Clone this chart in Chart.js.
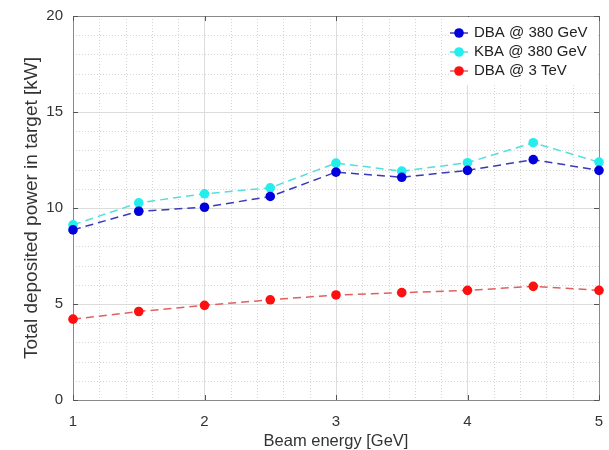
<!DOCTYPE html>
<html>
<head>
<meta charset="utf-8">
<script src="https://cdn.jsdelivr.net/npm/chart.js@4.4.0/dist/chart.umd.min.js"></script>
<style>
html,body{margin:0;padding:0;background:#fff;}
#wrap{width:609px;height:450px;position:relative;}
</style>
</head>
<body>
<div id="wrap"><canvas id="c" width="609" height="450"></canvas></div>
<script>
const beamEnergy = [1, 1.5, 2, 2.5, 3, 3.5, 4, 4.5, 5];
const dba380 = [8.86, 9.83, 10.04, 10.6, 11.87, 11.6, 11.96, 12.52, 11.96];
const kba380 = [9.12, 10.27, 10.74, 11.05, 12.34, 11.92, 12.36, 13.4, 12.39];
const dba3tev = [4.21, 4.61, 4.93, 5.22, 5.47, 5.59, 5.71, 5.92, 5.71];
const seriesLabels = ['DBA @ 380 GeV', 'KBA @ 380 GeV', 'DBA @ 3 TeV'];
const xTitle = 'Beam energy [GeV]';
const yTitle = 'Total deposited power in target [kW]';

const FONT = "'Liberation Sans', Arial, sans-serif";
const toPts = arr => beamEnergy.map((x, i) => ({x: x, y: arr[i]}));

function ds(label, arr, lineCol, ptCol) {
  return {
    label: label, data: toPts(arr),
    borderColor: lineCol, backgroundColor: ptCol,
    pointBackgroundColor: ptCol, pointBorderColor: ptCol,
    pointRadius: 4.8, pointBorderWidth: 0, borderWidth: 1.5,
    borderDash: [8, 5], tension: 0, clip: false
  };
}

const frame = {
  id: 'frame',
  beforeDatasetsDraw(chart) {
    const {ctx, chartArea: a, scales: {x, y}} = chart;
    ctx.save();
    ctx.strokeStyle = '#d6d6d6';
    ctx.lineWidth = 1;
    ctx.setLineDash([1, 2]);
    for (let v = 1; v <= 5.0001; v += 0.2) {
      const r = Math.round(v * 10) / 10;
      if (Math.abs(r - Math.round(r)) < 1e-6) continue;
      const px = Math.round(x.getPixelForValue(r)) + 0.5;
      ctx.beginPath(); ctx.moveTo(px, a.top); ctx.lineTo(px, a.bottom); ctx.stroke();
    }
    for (let v = 1; v < 20; v++) {
      if (v % 5 === 0) continue;
      const py = Math.round(y.getPixelForValue(v)) + 0.5;
      ctx.beginPath(); ctx.moveTo(a.left, py); ctx.lineTo(a.right, py); ctx.stroke();
    }
    ctx.setLineDash([]);
    ctx.strokeStyle = '#8a8a8a';
    ctx.lineWidth = 1;
    ctx.strokeRect(Math.round(a.left) + 0.5, Math.round(a.top) + 0.5,
                   Math.round(a.right - a.left), Math.round(a.bottom - a.top));
    ctx.strokeStyle = '#555';
    for (let v = 1; v <= 5; v++) {
      const px = Math.round(x.getPixelForValue(v)) + 0.5;
      ctx.beginPath(); ctx.moveTo(px, a.bottom); ctx.lineTo(px, a.bottom - 5); ctx.stroke();
      ctx.beginPath(); ctx.moveTo(px, a.top); ctx.lineTo(px, a.top + 5); ctx.stroke();
    }
    for (let v = 0; v <= 20; v += 5) {
      const py = Math.round(y.getPixelForValue(v)) + 0.5;
      ctx.beginPath(); ctx.moveTo(a.left, py); ctx.lineTo(a.left + 5, py); ctx.stroke();
      ctx.beginPath(); ctx.moveTo(a.right, py); ctx.lineTo(a.right - 5, py); ctx.stroke();
    }
    ctx.restore();
  },
  afterDraw(chart) {
    const {ctx, chartArea: a} = chart;
    ctx.save();
    const bx = 449, by = a.top + 1, bw = a.right - bx - 1, bh = 68;
    ctx.fillStyle = '#fff';
    ctx.fillRect(bx, by, bw, bh);
    ctx.font = '15px ' + FONT;
    ctx.textBaseline = 'middle';
    chart.data.datasets.forEach((d, i) => {
      const cy = a.top + 17 + i * 19;
      ctx.strokeStyle = d.borderColor;
      ctx.lineWidth = 1.5;
      ctx.beginPath(); ctx.moveTo(450, cy); ctx.lineTo(468, cy); ctx.stroke();
      ctx.fillStyle = d.pointBackgroundColor;
      ctx.beginPath(); ctx.arc(459, cy, 4.8, 0, Math.PI * 2); ctx.fill();
      ctx.fillStyle = '#222';
      ctx.fillText(d.label, 474, cy);
    });
    ctx.restore();
  }
};

new Chart(document.getElementById('c'), {
  type: 'line',
  data: {
    datasets: [
      ds(seriesLabels[0], dba380, '#3a3ab8', '#0000dd'),
      ds(seriesLabels[1], kba380, '#55dede', '#22eeee'),
      ds(seriesLabels[2], dba3tev, '#e06060', '#ff1010')
    ]
  },
  options: {
    responsive: false, animation: false, devicePixelRatio: 1,
    layout: {padding: {left: 0, right: 10, top: 16, bottom: 0}},
    plugins: {legend: {display: false}, tooltip: {enabled: false}},
    scales: {
      x: {
        type: 'linear', min: 1, max: 5,
        afterFit: s => { s.height = 50; s.paddingLeft = 0; s.paddingRight = 0; },
        ticks: {stepSize: 1, color: '#333', font: {family: FONT, size: 15}, padding: 13, maxRotation: 0},
        grid: {color: '#dcdcdc', drawTicks: false},
        border: {display: true, color: '#8a8a8a'},
        title: {display: true, text: xTitle, color: '#333', font: {family: FONT, size: 16.5}, padding: {top: 0, bottom: -1}}
      },
      y: {
        min: 0, max: 20,
        afterFit: s => { s.width = 73; s.paddingTop = 0; s.paddingBottom = 0; },
        ticks: {stepSize: 5, color: '#333', font: {family: FONT, size: 15}, padding: 10},
        grid: {color: '#dcdcdc', drawTicks: false},
        border: {display: true, color: '#8a8a8a'},
        title: {display: true, text: yTitle, color: '#333', font: {family: FONT, size: 19}, padding: {top: 20, bottom: 0}}
      }
    }
  },
  plugins: [frame]
});
</script>
</body>
</html>
